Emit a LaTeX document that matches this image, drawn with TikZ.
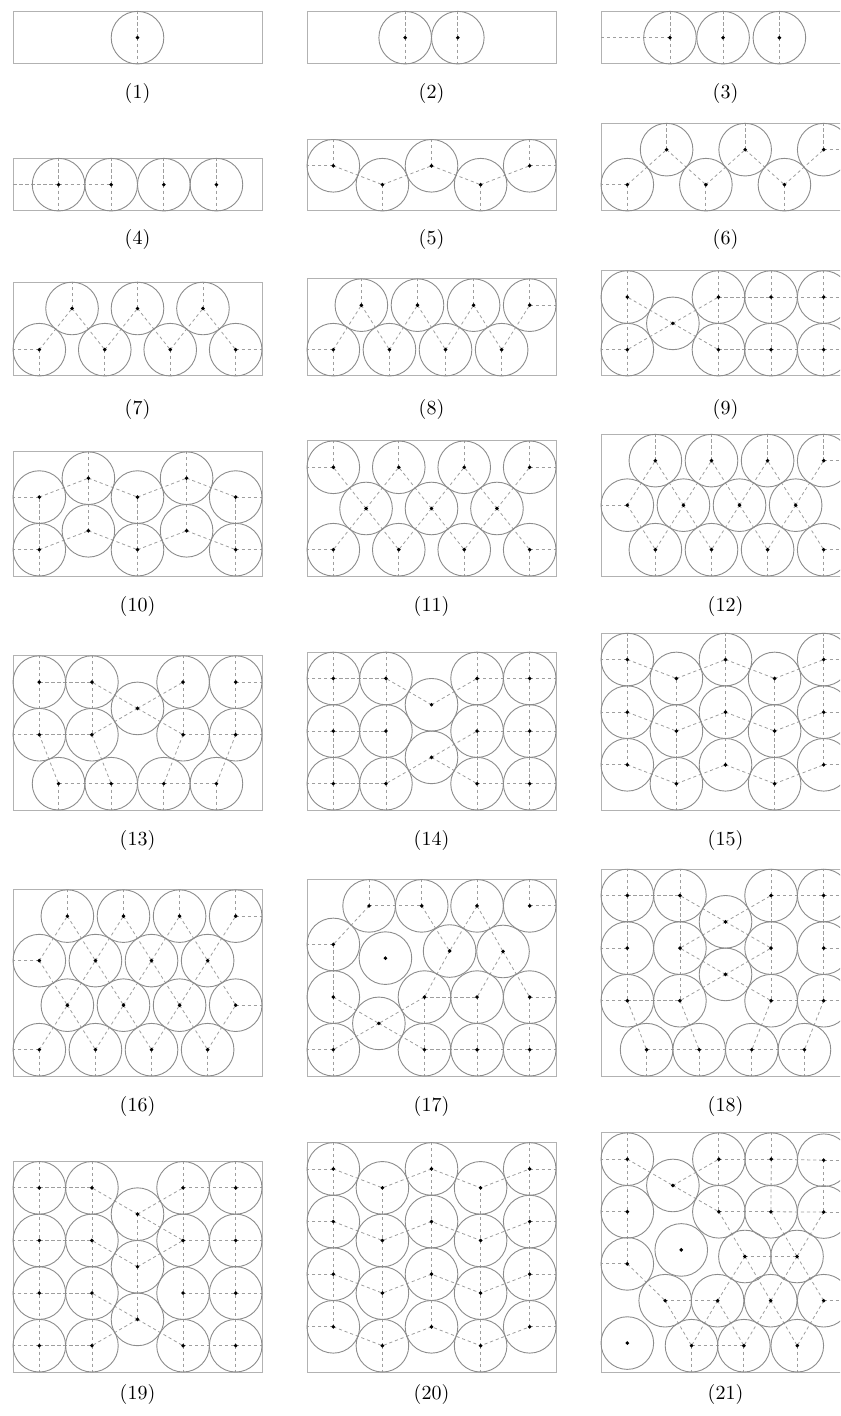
\documentclass[tikz,border=0pt]{standalone}
\definecolor{wallc}{gray}{0.70}
\definecolor{discc}{gray}{0.55}
\definecolor{linkc}{gray}{0.62}
\newcommand{\pkr}{13.155pt}
\newcommand{\pkW}{9.4641}
\tikzset{
  wall/.style={draw=wallc, line width=0.5pt},
  disc/.style={draw=discc, line width=0.45pt},
  link/.style={draw=linkc, line width=0.4pt, dash pattern=on 1.6pt off 1.4pt},
  lab/.style={inner sep=0pt}
}
\newcommand{\pkbox}[2]{\coordinate (o#1) at (0,0); \coordinate (e#1) at (\pkW,#2); \draw[wall] (o#1) rectangle (e#1);}
\newcommand{\pkc}[3]{\coordinate (#1) at (#2,#3);}
\newcommand{\pkL}[1]{\foreach \pka/\pkb in {#1}{\draw[link] (\pka) -- (\pkb);}}
\newcommand{\pkU}[2]{\foreach \pka in {#2}{\draw[link] (\pka) -- (\pka |- e#1);}}
\newcommand{\pkD}[2]{\foreach \pka in {#2}{\draw[link] (\pka) -- (\pka |- o#1);}}
\newcommand{\pkLW}[2]{\foreach \pka in {#2}{\draw[link] (\pka) -- (\pka -| o#1);}}
\newcommand{\pkRW}[2]{\foreach \pka in {#2}{\draw[link] (\pka) -- (\pka -| e#1);}}
\newcommand{\pkS}[1]{\foreach \pka in {#1}{\draw[disc] (\pka) circle[radius=1]; \fill (\pka) circle[radius=0.075];}}
\begin{document}
\begin{tikzpicture}[x=0.5pt,y=-0.5pt]
\useasboundingbox (0,0) rectangle (840,1416);
\clip (0,0) rectangle (840,1416);
% ---------- panel 1
\begin{scope}[shift={(13,64)},x=\pkr,y=\pkr]
\pkbox{1}{2}
\pkc{p1a}{4.732}{1}
\pkU{1}{p1a} \pkD{1}{p1a}
\pkS{p1a}
\end{scope}
% ---------- panel 2
\begin{scope}[shift={(307,64)},x=\pkr,y=\pkr]
\pkbox{2}{2}
\pkc{p2a}{3.732}{1} \pkc{p2b}{5.732}{1}
\pkU{2}{p2a,p2b} \pkD{2}{p2a,p2b}
\pkS{p2a,p2b}
\end{scope}
% ---------- panel 3
\begin{scope}[shift={(601,64)},x=\pkr,y=\pkr]
\pkbox{3}{2}
\pkc{p3a}{2.62}{1} \pkc{p3b}{4.64}{1} \pkc{p3c}{6.78}{1}
\pkLW{3}{p3a} \pkU{3}{p3a,p3b,p3c} \pkD{3}{p3a,p3b,p3c}
\pkS{p3a,p3b,p3c}
\end{scope}
% ---------- panel 4
\begin{scope}[shift={(13,211)},x=\pkr,y=\pkr]
\pkbox{4}{2}
\pkc{p4a}{1.732}{1} \pkc{p4b}{3.732}{1} \pkc{p4c}{5.732}{1} \pkc{p4d}{7.732}{1}
\pkLW{4}{p4a} \pkL{p4a/p4b}
\pkU{4}{p4a,p4b,p4c,p4d} \pkD{4}{p4a,p4b,p4c,p4d}
\pkS{p4a,p4b,p4c,p4d}
\end{scope}
% ---------- panel 5
\begin{scope}[shift={(307,211)},x=\pkr,y=\pkr]
\pkbox{5}{2.718}
\pkc{p5a}{1}{1.718} \pkc{p5b}{2.866}{1} \pkc{p5c}{4.732}{1.718} \pkc{p5d}{6.598}{1} \pkc{p5e}{8.464}{1.718}
\pkLW{5}{p5a} \pkRW{5}{p5e} \pkU{5}{p5a,p5c,p5e} \pkD{5}{p5b,p5d}
\pkL{p5a/p5b,p5b/p5c,p5c/p5d,p5d/p5e}
\pkS{p5a,p5b,p5c,p5d,p5e}
\end{scope}
% ---------- panel 6
\begin{scope}[shift={(601,211)},x=\pkr,y=\pkr]
\pkbox{6}{3.331}
\pkc{p6a}{1}{1} \pkc{p6b}{2.493}{2.331} \pkc{p6c}{3.986}{1} \pkc{p6d}{5.479}{2.331} \pkc{p6e}{6.971}{1} \pkc{p6f}{8.464}{2.331}
\pkLW{6}{p6a} \pkRW{6}{p6f} \pkU{6}{p6b,p6d,p6f} \pkD{6}{p6a,p6c,p6e}
\pkL{p6a/p6b,p6b/p6c,p6c/p6d,p6d/p6e,p6e/p6f}
\pkS{p6a,p6b,p6c,p6d,p6e,p6f}
\end{scope}
% ---------- panel 7
\begin{scope}[shift={(13,376)},x=\pkr,y=\pkr]
\pkbox{7}{3.566}
\pkc{p7a}{1}{1} \pkc{p7b}{2.244}{2.566} \pkc{p7c}{3.488}{1} \pkc{p7d}{4.732}{2.566} \pkc{p7e}{5.976}{1} \pkc{p7f}{7.220}{2.566} \pkc{p7g}{8.464}{1}
\pkLW{7}{p7a} \pkRW{7}{p7g} \pkD{7}{p7a,p7c,p7e,p7g} \pkU{7}{p7b,p7d,p7f}
\pkL{p7a/p7b,p7b/p7c,p7c/p7d,p7d/p7e,p7e/p7f,p7f/p7g}
\pkS{p7a,p7b,p7c,p7d,p7e,p7f,p7g}
\end{scope}
% ---------- panel 8
\begin{scope}[shift={(307,376)},x=\pkr,y=\pkr]
\pkbox{8}{3.692}
\pkc{p8a}{1}{1} \pkc{p8b}{2.066}{2.692} \pkc{p8c}{3.133}{1} \pkc{p8d}{4.199}{2.692} \pkc{p8e}{5.265}{1} \pkc{p8f}{6.332}{2.692} \pkc{p8g}{7.398}{1} \pkc{p8h}{8.464}{2.692}
\pkLW{8}{p8a} \pkRW{8}{p8h} \pkD{8}{p8a,p8c,p8e,p8g} \pkU{8}{p8b,p8d,p8f,p8h}
\pkL{p8a/p8b,p8b/p8c,p8c/p8d,p8d/p8e,p8e/p8f,p8f/p8g,p8g/p8h}
\pkS{p8a,p8b,p8c,p8d,p8e,p8f,p8g,p8h}
\end{scope}
% ---------- panel 9
\begin{scope}[shift={(601,376)},x=\pkr,y=\pkr]
\pkbox{9}{4}
\pkc{p9a}{1}{3} \pkc{p9b}{1}{1} \pkc{p9m}{2.732}{2} \pkc{p9c}{4.464}{3} \pkc{p9d}{4.464}{1} \pkc{p9e}{6.464}{3} \pkc{p9f}{6.464}{1} \pkc{p9g}{8.464}{3} \pkc{p9h}{8.464}{1}
\pkU{9}{p9a,p9c,p9e,p9g} \pkD{9}{p9b,p9d,p9f,p9h} \pkLW{9}{p9b} \pkRW{9}{p9g,p9h}
\pkL{p9a/p9b,p9m/p9a,p9m/p9b,p9m/p9c,p9m/p9d,p9c/p9d,p9e/p9f,p9g/p9h,p9c/p9e,p9e/p9g,p9d/p9f,p9f/p9h}
\pkS{p9a,p9b,p9m,p9c,p9d,p9e,p9f,p9g,p9h}
\end{scope}
% ---------- panel 10
\begin{scope}[shift={(13,576)},x=\pkr,y=\pkr]
\pkbox{10}{4.718}
\pkc{p10a}{1}{1} \pkc{p10b}{1}{3} \pkc{p10c}{2.866}{1.718} \pkc{p10d}{2.866}{3.718} \pkc{p10e}{4.732}{1} \pkc{p10f}{4.732}{3} \pkc{p10g}{6.598}{1.718} \pkc{p10h}{6.598}{3.718} \pkc{p10i}{8.464}{1} \pkc{p10j}{8.464}{3}
\pkLW{10}{p10a,p10b} \pkRW{10}{p10i,p10j} \pkD{10}{p10a,p10e,p10i} \pkU{10}{p10d,p10h}
\pkL{p10a/p10b,p10c/p10d,p10e/p10f,p10g/p10h,p10i/p10j,p10a/p10c,p10c/p10e,p10e/p10g,p10g/p10i,p10b/p10d,p10d/p10f,p10f/p10h,p10h/p10j}
\pkS{p10a,p10b,p10c,p10d,p10e,p10f,p10g,p10h,p10i,p10j}
\end{scope}
% ---------- panel 11
\begin{scope}[shift={(307,576)},x=\pkr,y=\pkr]
\pkbox{11}{5.132}
\pkc{p11a}{1}{4.132} \pkc{p11b}{3.488}{4.132} \pkc{p11c}{5.976}{4.132} \pkc{p11d}{8.464}{4.132}
\pkc{p11e}{2.244}{2.566} \pkc{p11f}{4.732}{2.566} \pkc{p11g}{7.220}{2.566}
\pkc{p11h}{1}{1} \pkc{p11i}{3.488}{1} \pkc{p11j}{5.976}{1} \pkc{p11k}{8.464}{1}
\pkU{11}{p11a,p11b,p11c,p11d} \pkD{11}{p11h,p11i,p11j,p11k} \pkLW{11}{p11a,p11h} \pkRW{11}{p11d,p11k}
\pkL{p11e/p11a,p11e/p11b,p11e/p11h,p11e/p11i,p11f/p11b,p11f/p11c,p11f/p11i,p11f/p11j,p11g/p11c,p11g/p11d,p11g/p11j,p11g/p11k}
\pkS{p11a,p11b,p11c,p11d,p11e,p11f,p11g,p11h,p11i,p11j,p11k}
\end{scope}
% ---------- panel 12
\begin{scope}[shift={(601,576)},x=\pkr,y=\pkr]
\pkbox{12}{5.384}
\pkc{p12a}{2.066}{4.384} \pkc{p12b}{4.199}{4.384} \pkc{p12c}{6.332}{4.384} \pkc{p12d}{8.464}{4.384}
\pkc{p12e}{1}{2.692} \pkc{p12f}{3.133}{2.692} \pkc{p12g}{5.265}{2.692} \pkc{p12h}{7.398}{2.692}
\pkc{p12i}{2.066}{1} \pkc{p12j}{4.199}{1} \pkc{p12k}{6.332}{1} \pkc{p12l}{8.464}{1}
\pkU{12}{p12a,p12b,p12c,p12d} \pkD{12}{p12i,p12j,p12k,p12l} \pkRW{12}{p12d,p12l} \pkLW{12}{p12e}
\pkL{p12e/p12a,p12e/p12i,p12f/p12a,p12f/p12i,p12f/p12b,p12f/p12j,p12g/p12b,p12g/p12j,p12g/p12c,p12g/p12k,p12h/p12c,p12h/p12k,p12h/p12d,p12h/p12l}
\pkS{p12a,p12b,p12c,p12d,p12e,p12f,p12g,p12h,p12i,p12j,p12k,p12l}
\end{scope}
% ---------- panel 13
\begin{scope}[shift={(13,810)},x=\pkr,y=\pkr]
\pkbox{13}{5.861}
\pkc{p13a}{1}{4.861} \pkc{p13b}{3}{4.861} \pkc{p13c}{6.464}{4.861} \pkc{p13d}{8.464}{4.861}
\pkc{p13m}{4.732}{3.861}
\pkc{p13e}{1}{2.861} \pkc{p13f}{3}{2.861} \pkc{p13g}{6.464}{2.861} \pkc{p13h}{8.464}{2.861}
\pkc{p13i}{1.732}{1} \pkc{p13j}{3.732}{1} \pkc{p13k}{5.732}{1} \pkc{p13l}{7.732}{1}
\pkU{13}{p13a,p13b,p13c,p13d} \pkRW{13}{p13d,p13h} \pkLW{13}{p13e} \pkD{13}{p13i,p13j,p13k,p13l}
\pkL{p13a/p13b,p13a/p13e,p13b/p13f,p13c/p13g,p13d/p13h,p13m/p13b,p13m/p13f,p13m/p13c,p13m/p13g,p13e/p13f,p13g/p13h,p13e/p13i,p13f/p13j,p13g/p13k,p13h/p13l,p13i/p13j,p13j/p13k,p13k/p13l}
\pkS{p13a,p13b,p13c,p13d,p13m,p13e,p13f,p13g,p13h,p13i,p13j,p13k,p13l}
\end{scope}
% ---------- panel 14
\begin{scope}[shift={(307,810)},x=\pkr,y=\pkr]
\pkbox{14}{6}
\pkc{p14a}{1}{1} \pkc{p14b}{1}{3} \pkc{p14c}{1}{5}
\pkc{p14d}{3}{1} \pkc{p14e}{3}{3} \pkc{p14f}{3}{5}
\pkc{p14g}{6.464}{1} \pkc{p14h}{6.464}{3} \pkc{p14i}{6.464}{5}
\pkc{p14j}{8.464}{1} \pkc{p14k}{8.464}{3} \pkc{p14l}{8.464}{5}
\pkc{p14m}{4.732}{4} \pkc{p14n}{4.732}{2}
\pkU{14}{p14c,p14f,p14i,p14l} \pkD{14}{p14a,p14d,p14g,p14j} \pkLW{14}{p14a,p14b,p14c} \pkRW{14}{p14j,p14k,p14l}
\pkL{p14a/p14b,p14b/p14c,p14d/p14e,p14e/p14f,p14g/p14h,p14h/p14i,p14j/p14k,p14k/p14l,p14a/p14d,p14b/p14e,p14c/p14f,p14g/p14j,p14h/p14k,p14i/p14l,p14m/p14f,p14m/p14i,p14n/p14d,p14n/p14g,p14n/p14h}
\pkS{p14a,p14b,p14c,p14d,p14e,p14f,p14g,p14h,p14i,p14j,p14k,p14l,p14m,p14n}
\end{scope}
% ---------- panel 15
\begin{scope}[shift={(601,810)},x=\pkr,y=\pkr]
\pkbox{15}{6.718}
\pkc{p15a}{1}{1.718} \pkc{p15b}{1}{3.718} \pkc{p15c}{1}{5.718}
\pkc{p15d}{2.866}{1} \pkc{p15e}{2.866}{3} \pkc{p15f}{2.866}{5}
\pkc{p15g}{4.732}{1.718} \pkc{p15h}{4.732}{3.718} \pkc{p15i}{4.732}{5.718}
\pkc{p15j}{6.598}{1} \pkc{p15k}{6.598}{3} \pkc{p15l}{6.598}{5}
\pkc{p15m}{8.464}{1.718} \pkc{p15n}{8.464}{3.718} \pkc{p15o}{8.464}{5.718}
\pkLW{15}{p15a,p15b,p15c} \pkRW{15}{p15m,p15n,p15o} \pkU{15}{p15c,p15i,p15o} \pkD{15}{p15d,p15j}
\pkL{p15a/p15b,p15b/p15c,p15d/p15e,p15e/p15f,p15g/p15h,p15h/p15i,p15j/p15k,p15k/p15l,p15m/p15n,p15n/p15o,p15a/p15d,p15d/p15g,p15g/p15j,p15j/p15m,p15b/p15e,p15e/p15h,p15h/p15k,p15k/p15n,p15c/p15f,p15f/p15i,p15i/p15l,p15l/p15o}
\pkS{p15a,p15b,p15c,p15d,p15e,p15f,p15g,p15h,p15i,p15j,p15k,p15l,p15m,p15n,p15o}
\end{scope}
% ---------- panel 16
\begin{scope}[shift={(13,1076)},x=\pkr,y=\pkr]
\pkbox{16}{7.077}
\pkc{p16a}{1}{1} \pkc{p16b}{3.133}{1} \pkc{p16c}{5.265}{1} \pkc{p16d}{7.398}{1}
\pkc{p16e}{2.066}{2.692} \pkc{p16f}{4.199}{2.692} \pkc{p16g}{6.332}{2.692} \pkc{p16h}{8.464}{2.692}
\pkc{p16i}{1}{4.385} \pkc{p16j}{3.133}{4.385} \pkc{p16k}{5.265}{4.385} \pkc{p16l}{7.398}{4.385}
\pkc{p16m}{2.066}{6.077} \pkc{p16n}{4.199}{6.077} \pkc{p16o}{6.332}{6.077} \pkc{p16p}{8.464}{6.077}
\pkD{16}{p16a,p16b,p16c,p16d} \pkU{16}{p16m,p16n,p16o,p16p} \pkLW{16}{p16a,p16i} \pkRW{16}{p16h,p16p}
\pkL{p16a/p16e,p16e/p16b,p16b/p16f,p16f/p16c,p16c/p16g,p16g/p16d,p16d/p16h,p16i/p16e,p16e/p16j,p16j/p16f,p16f/p16k,p16k/p16g,p16g/p16l,p16l/p16h,p16i/p16m,p16m/p16j,p16j/p16n,p16n/p16k,p16k/p16o,p16o/p16l,p16l/p16p}
\pkS{p16a,p16b,p16c,p16d,p16e,p16f,p16g,p16h,p16i,p16j,p16k,p16l,p16m,p16n,p16o,p16p}
\end{scope}
% ---------- panel 17
\begin{scope}[shift={(307,1076)},x=\pkr,y=\pkr]
\pkbox{17}{7.466}
\pkc{p17a}{2.36}{6.466} \pkc{p17b}{4.36}{6.466} \pkc{p17c}{6.464}{6.466} \pkc{p17d}{8.464}{6.466}
\pkc{p17e}{1}{5} \pkc{p17f}{2.98}{4.48} \pkc{p17g}{5.42}{4.75} \pkc{p17h}{7.45}{4.733}
\pkc{p17i}{1}{3} \pkc{p17j}{4.464}{3} \pkc{p17k}{6.464}{3} \pkc{p17l}{8.464}{3}
\pkc{p17m}{2.732}{2}
\pkc{p17n}{1}{1} \pkc{p17o}{4.464}{1} \pkc{p17p}{6.464}{1} \pkc{p17q}{8.464}{1}
\pkU{17}{p17a,p17b,p17c,p17d} \pkRW{17}{p17d,p17l,p17q} \pkLW{17}{p17e,p17n} \pkD{17}{p17n,p17o,p17p,p17q}
\pkL{p17a/p17b,p17a/p17e,p17b/p17g,p17c/p17g,p17c/p17h,p17e/p17i,p17g/p17j,p17h/p17k,p17h/p17l,p17i/p17n,p17i/p17m,p17j/p17m,p17j/p17k,p17j/p17o,p17k/p17p,p17l/p17q,p17m/p17n,p17m/p17o,p17o/p17p,p17p/p17q}
\pkS{p17a,p17b,p17c,p17d,p17e,p17f,p17g,p17h,p17i,p17j,p17k,p17l,p17m,p17n,p17o,p17p,p17q}
\end{scope}
% ---------- panel 18
\begin{scope}[shift={(601,1076)},x=\pkr,y=\pkr]
\pkbox{18}{7.861}
\pkc{p18a}{1}{6.861} \pkc{p18b}{3}{6.861} \pkc{p18c}{6.464}{6.861} \pkc{p18d}{8.464}{6.861}
\pkc{p18m}{4.732}{5.861}
\pkc{p18e}{1}{4.861} \pkc{p18f}{3}{4.861} \pkc{p18g}{6.464}{4.861} \pkc{p18h}{8.464}{4.861}
\pkc{p18n}{4.732}{3.861}
\pkc{p18i}{1}{2.861} \pkc{p18j}{3}{2.861} \pkc{p18k}{6.464}{2.861} \pkc{p18l}{8.464}{2.861}
\pkc{p18q}{1.732}{1} \pkc{p18r}{3.732}{1} \pkc{p18s}{5.732}{1} \pkc{p18t}{7.732}{1}
\pkU{18}{p18a,p18b,p18c,p18d} \pkLW{18}{p18a,p18e,p18i} \pkRW{18}{p18d,p18h,p18l} \pkD{18}{p18q,p18r,p18s,p18t}
\pkL{p18a/p18b,p18c/p18d,p18a/p18e,p18b/p18f,p18c/p18g,p18d/p18h,p18e/p18i,p18f/p18j,p18g/p18k,p18h/p18l,p18m/p18b,p18m/p18c,p18m/p18f,p18m/p18g,p18n/p18f,p18n/p18g,p18n/p18j,p18n/p18k,p18i/p18j,p18k/p18l,p18i/p18q,p18j/p18r,p18k/p18s,p18l/p18t,p18q/p18r,p18r/p18s,p18s/p18t}
\pkS{p18a,p18b,p18c,p18d,p18m,p18e,p18f,p18g,p18h,p18n,p18i,p18j,p18k,p18l,p18q,p18r,p18s,p18t}
\end{scope}
% ---------- panel 19
\begin{scope}[shift={(13,1372)},x=\pkr,y=\pkr]
\pkbox{19}{8}
\foreach \pkk/\pky in {1/1,2/3,3/5,4/7}{
  \coordinate (p19a\pkk) at (1,\pky); \coordinate (p19b\pkk) at (3,\pky);
  \coordinate (p19c\pkk) at (6.464,\pky); \coordinate (p19d\pkk) at (8.464,\pky);}
\pkc{p19m}{4.732}{6} \pkc{p19n}{4.732}{4} \pkc{p19o}{4.732}{2}
\pkLW{19}{p19a1,p19a2,p19a3,p19a4} \pkRW{19}{p19d1,p19d2,p19d3,p19d4}
\pkU{19}{p19a4,p19b4,p19c4,p19d4} \pkD{19}{p19a1,p19b1,p19c1,p19d1}
\foreach \pkq in {a,b,c,d}{\draw[link] (p19\pkq1) -- (p19\pkq2) -- (p19\pkq3) -- (p19\pkq4);}
\foreach \pkk in {1,2,3,4}{\draw[link] (p19a\pkk) -- (p19b\pkk); \draw[link] (p19c\pkk) -- (p19d\pkk);}
\pkL{p19m/p19b4,p19m/p19c4,p19m/p19c3,p19n/p19b3,p19n/p19c3,p19o/p19b2,p19o/p19b1,p19o/p19c1,p19m/p19n,p19n/p19o}
\foreach \pkq in {a,b,c,d}{\pkS{p19\pkq1,p19\pkq2,p19\pkq3,p19\pkq4}}
\pkS{p19m,p19n,p19o}
\end{scope}
% ---------- panel 20
\begin{scope}[shift={(307,1372)},x=\pkr,y=\pkr]
\pkbox{20}{8.718}
\foreach \pkk/\pky/\pkz in {1/1.718/1,2/3.718/3,3/5.718/5,4/7.718/7}{
  \coordinate (p20a\pkk) at (1,\pky); \coordinate (p20b\pkk) at (2.866,\pkz);
  \coordinate (p20c\pkk) at (4.732,\pky); \coordinate (p20d\pkk) at (6.598,\pkz);
  \coordinate (p20e\pkk) at (8.464,\pky);}
\pkLW{20}{p20a1,p20a2,p20a3,p20a4} \pkRW{20}{p20e1,p20e2,p20e3,p20e4}
\pkU{20}{p20a4,p20c4,p20e4} \pkD{20}{p20b1,p20d1}
\foreach \pkq in {a,b,c,d,e}{\draw[link] (p20\pkq1) -- (p20\pkq2) -- (p20\pkq3) -- (p20\pkq4);}
\foreach \pkk in {1,2,3,4}{\draw[link] (p20a\pkk) -- (p20b\pkk) -- (p20c\pkk) -- (p20d\pkk) -- (p20e\pkk);}
\foreach \pkq in {a,b,c,d,e}{\pkS{p20\pkq1,p20\pkq2,p20\pkq3,p20\pkq4}}
\end{scope}
% ---------- panel 21
\begin{scope}[shift={(601,1372)},x=\pkr,y=\pkr]
\pkbox{21}{9.09}
\pkc{p21a}{1}{8.09} \pkc{p21b}{2.732}{7.09} \pkc{p21c}{4.48}{8.09} \pkc{p21d}{6.47}{8.09} \pkc{p21e}{8.464}{8.05}
\pkc{p21f}{1}{6.09} \pkc{p21g}{4.48}{6.09} \pkc{p21h}{6.46}{6.09} \pkc{p21i}{8.464}{6.08}
\pkc{p21j}{1}{4.11} \pkc{p21k}{3.05}{4.64} \pkc{p21l}{5.47}{4.39} \pkc{p21m}{7.45}{4.39}
\pkc{p21n}{2.44}{2.71} \pkc{p21o}{4.43}{2.71} \pkc{p21p}{6.45}{2.71} \pkc{p21q}{8.464}{2.71}
\pkc{p21r}{1}{1.1} \pkc{p21s}{3.44}{1} \pkc{p21t}{5.43}{1} \pkc{p21u}{7.46}{1}
\pkU{21}{p21a,p21c,p21d} \pkLW{21}{p21a,p21f,p21j} \pkRW{21}{p21e,p21i,p21q} \pkD{21}{p21s,p21t,p21u}
\pkL{p21a/p21f,p21a/p21b,p21b/p21c,p21b/p21g,p21c/p21d,p21c/p21g,p21d/p21e,p21d/p21h,p21e/p21i,p21f/p21j,p21g/p21h,p21h/p21i,p21g/p21l,p21h/p21m,p21i/p21m,p21j/p21n,p21l/p21m,p21l/p21o,p21l/p21p,p21m/p21p,p21m/p21q,p21n/p21o,p21n/p21s,p21o/p21s,p21o/p21t,p21p/p21t,p21p/p21u,p21q/p21u,p21s/p21t}
\pkS{p21a,p21b,p21c,p21d,p21e,p21f,p21g,p21h,p21i,p21j,p21k,p21l,p21m,p21n,p21o,p21p,p21q,p21r,p21s,p21t,p21u}
\end{scope}
% ---------- labels
\node[lab] (l1) at (137.5,94) {(1)};
\node[lab] (l2) at (431.5,94) {(2)};
\node[lab] (l3) at (725.5,94) {(3)};
\node[lab] (l4) at (137.5,240) {(4)};
\node[lab] (l5) at (431.5,240) {(5)};
\node[lab] (l6) at (725.5,240) {(6)};
\node[lab] (l7) at (137.5,410) {(7)};
\node[lab] (l8) at (431.5,410) {(8)};
\node[lab] (l9) at (725.5,410) {(9)};
\node[lab] (l10) at (137.5,606) {(10)};
\node[lab] (l11) at (431.5,606) {(11)};
\node[lab] (l12) at (725.5,606) {(12)};
\node[lab] (l13) at (137.5,840) {(13)};
\node[lab] (l14) at (431.5,840) {(14)};
\node[lab] (l15) at (725.5,840) {(15)};
\node[lab] (l16) at (137.5,1106) {(16)};
\node[lab] (l17) at (431.5,1106) {(17)};
\node[lab] (l18) at (725.5,1106) {(18)};
\node[lab] (l19) at (137.5,1394) {(19)};
\node[lab] (l20) at (431.5,1394) {(20)};
\node[lab] (l21) at (725.5,1394) {(21)};
\end{tikzpicture}
\end{document}
